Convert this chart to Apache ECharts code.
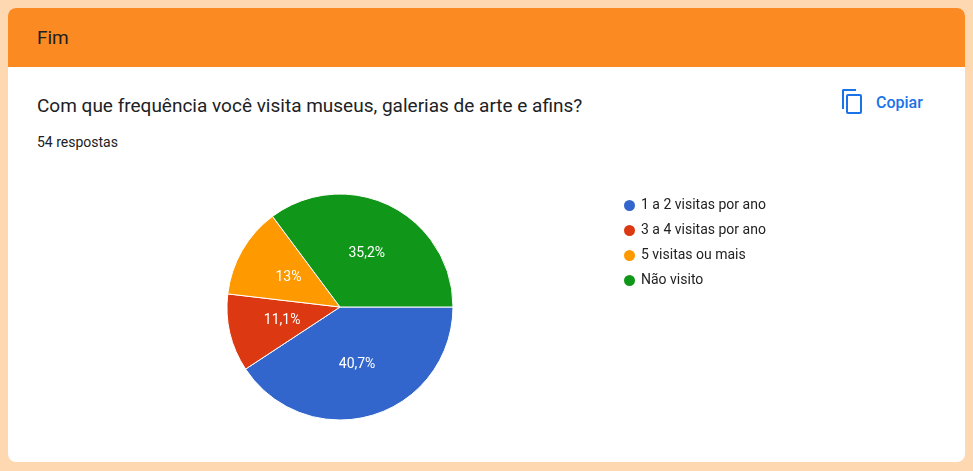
<!DOCTYPE html>
<html><head><meta charset="utf-8">
<script src="https://cdn.jsdelivr.net/npm/echarts@6/dist/echarts.min.js"></script>
<style>
body{margin:0;width:973px;height:471px;background:#fdd8b0;font-family:Roboto,Arial,sans-serif;position:relative;overflow:hidden}
#card{position:absolute;left:8px;top:8px;width:957px;height:454px;background:#fff;border-radius:8px;overflow:hidden}
#hdr{height:59px;background:#fb8a22;color:#202124;font-size:19px;line-height:59px;padding-left:29px}
#q{position:absolute;left:29px;top:86px;font-size:19px;color:#202124}
#n{position:absolute;left:29px;top:126px;font-size:14px;color:#202124}
#cp{position:absolute;left:832px;top:84px;color:#1a73e8;font-size:16px;font-weight:500;display:flex;align-items:center}
#ic{width:12px;height:16px;border:2px solid #1a73e8;border-radius:2px;position:relative;margin-right:20px;left:6px;top:2px}
#ic:before{content:"";position:absolute;left:-6px;top:-7px;width:12px;height:18px;border-left:2px solid #1a73e8;border-top:2px solid #1a73e8;border-radius:2px 0 0 0}
#chart{position:absolute;left:0;top:0;width:973px;height:471px}
</style></head><body>
<div id="card"><div id="hdr">Fim</div>
<div id="q">Com que frequência você visita museus, galerias de arte e afins?</div>
<div id="n">54 respostas</div>
<div id="cp"><div id="ic"></div>Copiar</div></div>
<div id="chart"></div>
<script>
const categories=["1 a 2 visitas por ano","3 a 4 visitas por ano","5 visitas ou mais","Não visito"];
const values=[22,6,7,19];
const colors=["#3366cc","#dc3912","#ff9900","#109618"];
const c=echarts.init(document.getElementById('chart'));
c.setOption({
 color:colors,
 legend:{orient:'vertical',left:617,top:193,itemGap:10,icon:'circle',itemWidth:13,itemHeight:13,
  textStyle:{fontSize:14,color:'#222',fontFamily:'Roboto, Arial'},data:categories},
 series:[{type:'pie',center:[340,307],radius:113,startAngle:0,clockwise:true,
  itemStyle:{borderColor:'#fff',borderWidth:1},
  label:{position:'inside',color:'#fff',fontSize:14,fontFamily:'Roboto, Arial',
   formatter:p=>(Math.round(p.percent*10)/10).toString().replace('.',',')+'%'},
  labelLine:{show:false},emphasis:{disabled:true},
  data:categories.map((n,i)=>({name:n,value:values[i]}))}]
});
</script></body></html>
